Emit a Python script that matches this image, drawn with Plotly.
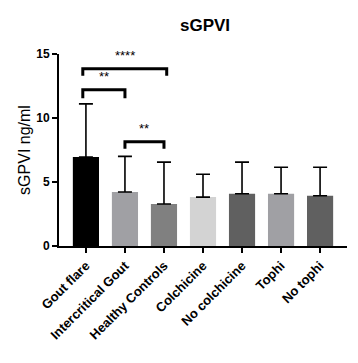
import plotly.graph_objects as go

categories = ["Gout flare", "Intercritical Gout", "Healthy Controls", "Colchicine",
              "No colchicine", "Tophi", "No tophi"]
means = [6.95, 4.22, 3.28, 3.82, 4.08, 4.08, 3.92]
upper = [11.1, 7.0, 6.55, 5.6, 6.55, 6.15, 6.15]
colors = ["#000000", "#a0a0a4", "#808080", "#d3d3d3", "#606060", "#a0a0a4", "#606060"]
y_ticks = [0, 5, 10, 15]

# significance brackets: (x_left, x_right, y_top, y_leg, label)
brackets = [
    (-0.08, 2.07, 13.85, 13.3, "****"),
    (-0.08, 1.0, 12.2, 11.55, "**"),
    (1.0, 2.0, 8.15, 7.6, "**"),
]

FONT = "Liberation Sans, Arial, sans-serif"
x = list(range(len(categories)))

fig = go.Figure()
fig.add_trace(go.Bar(
    x=x, y=means,
    marker=dict(color=colors, line=dict(width=0)),
    width=0.67,
    error_y=dict(type="data", symmetric=False,
                 array=[u - m for u, m in zip(upper, means)],
                 arrayminus=[0] * len(means),
                 color="black", thickness=1.6, width=7),
    showlegend=False,
))

for x0, x1, yt, yl, lab in brackets:
    fig.add_shape(type="path", xref="x", yref="y",
                  path=f"M {x0},{yl} L {x0},{yt} L {x1},{yt} L {x1},{yl}",
                  line=dict(color="black", width=3))
    fig.add_annotation(x=(x0 + x1) / 2, y=yt, yref="y", xref="x",
                       text=lab, showarrow=False, yanchor="bottom", yshift=4,
                       font=dict(family=FONT, size=13, color="black"))

fig.update_layout(
    width=358, height=363,
    margin=dict(l=59, r=11, t=54, b=117),
    plot_bgcolor="white", paper_bgcolor="white",
    title=dict(text="<b>sGPVI</b>", x=205 / 358, xanchor="center",
               y=1 - 25 / 363, yanchor="middle",
               font=dict(family=FONT, size=17, color="black")),
    font=dict(family=FONT, color="black"),
)
fig.update_xaxes(
    range=[-0.69, 6.69], tickmode="array", tickvals=x, ticktext=categories,
    tickangle=-45, ticks="outside", ticklen=5, tickwidth=2, tickcolor="black",
    showline=True, linecolor="black", linewidth=2, showgrid=False, zeroline=False,
    tickfont=dict(family=FONT, size=13, color="black", weight="bold"),
)
fig.update_yaxes(
    range=[0, 15], tickvals=y_ticks, ticks="outside", ticklen=5, tickwidth=2,
    tickcolor="black", showline=True, linecolor="black", linewidth=2,
    showgrid=False, zeroline=False,
    tickfont=dict(family=FONT, size=12, color="black", weight="bold"),
    title=dict(text="sGPVI ng/ml", font=dict(family=FONT, size=16, color="black"),
               standoff=2),
)

fig.write_html("out.html")
